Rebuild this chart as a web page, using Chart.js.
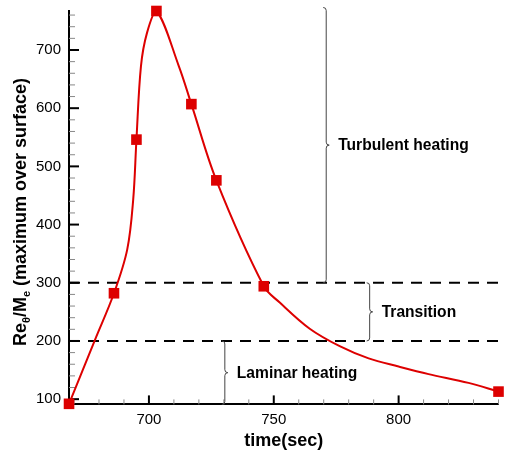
<!DOCTYPE html>
<html>
<head>
<meta charset="utf-8">
<script src="https://cdn.jsdelivr.net/npm/chart.js@4.4.0/dist/chart.umd.min.js"></script>
<style>
  html, body { margin: 0; padding: 0; background: #fff; }
  #contenedor { width: 506px; height: 452px; }
</style>
</head>
<body>
<div id="contenedor"><canvas id="grafico-reynolds"></canvas></div>
<script>
// Puntos marcados (cuadrados)
const tiempoMarcas = [668, 686, 695, 703, 717, 727, 746, 840];
const valorMarcas = [92, 282, 546, 767, 607, 476, 294, 113];

// Curva
const tiempoCurva = [668, 678.4, 686, 691.3, 693.7, 695, 696.8, 699.2, 703, 712, 717, 727, 746, 752.4, 764.4, 776.4, 788, 800, 812, 828, 840];
const valorCurva = [92, 202, 282, 357, 443, 546, 672, 729, 767, 672, 607, 476, 294, 266, 221, 191, 170, 156, 143, 128, 113];

// Límites de régimen (líneas discontinuas)
const umbrales = [200, 300];

// Llaves con etiquetas
const etiquetasLlave = ['Turbulent heating', 'Transition', 'Laminar heating'];
const tiempoLlave = [771, 788.4, 730.4];
const desdeLlave = [300, 200, 91];
const hastaLlave = [773, 300, 200];

const ROJO = '#dd0000';
const FUENTE = "'Liberation Sans', Arial, sans-serif";

const puntos = (xs, ys) => xs.map((x, i) => ({ x: x, y: ys[i] }));

// Marcas de escala hacia adentro
const marcasEscala = {
  id: 'marcasEscala',
  beforeDatasetsDraw(chart) {
    const { ctx, chartArea, scales } = chart;
    ctx.save();
    scales.x.ticks.forEach(t => {
      if (t.value % 10 !== 0) return;
      const px = scales.x.getPixelForValue(t.value);
      const mayor = t.value % 50 === 0;
      ctx.beginPath();
      ctx.strokeStyle = mayor ? '#000' : '#888';
      ctx.lineWidth = mayor ? 2 : 1;
      ctx.moveTo(px, chartArea.bottom);
      ctx.lineTo(px, chartArea.bottom - (mayor ? 9 : 5));
      ctx.stroke();
    });
    scales.y.ticks.forEach(t => {
      if (t.value % 20 !== 0) return;
      const py = scales.y.getPixelForValue(t.value);
      const mayor = t.value % 100 === 0;
      ctx.beginPath();
      ctx.strokeStyle = mayor ? '#000' : '#888';
      ctx.lineWidth = mayor ? 2 : 1;
      ctx.moveTo(chartArea.left, py);
      ctx.lineTo(chartArea.left + (mayor ? 10 : 6), py);
      ctx.stroke();
    });
    ctx.restore();
  }
};

// Llaves y título del eje Y
const anotaciones = {
  id: 'anotaciones',
  afterDraw(chart) {
    const { ctx, scales } = chart;
    ctx.save();
    ctx.strokeStyle = '#444';
    ctx.lineWidth = 1;
    etiquetasLlave.forEach((texto, i) => {
      const x = scales.x.getPixelForValue(tiempoLlave[i]);
      const y0 = scales.y.getPixelForValue(hastaLlave[i]);
      const y1 = scales.y.getPixelForValue(desdeLlave[i]);
      const ym = (y0 + y1) / 2;
      const r = 3;
      ctx.beginPath();
      ctx.moveTo(x - r, y0);
      ctx.quadraticCurveTo(x, y0, x, y0 + r);
      ctx.lineTo(x, ym - r);
      ctx.quadraticCurveTo(x, ym, x + r, ym);
      ctx.quadraticCurveTo(x, ym, x, ym + r);
      ctx.lineTo(x, y1 - r);
      ctx.quadraticCurveTo(x, y1, x - r, y1);
      ctx.stroke();
      ctx.fillStyle = '#000';
      ctx.font = 'bold 15.6px ' + FUENTE;
      ctx.textAlign = 'left';
      ctx.textBaseline = 'middle';
      ctx.fillText(texto, x + 12, ym + 1);
    });

    // Título vertical con subíndices
    const partes = [
      { t: 'Re', sub: false },
      { t: '\u03B8', sub: true },
      { t: '/M', sub: false },
      { t: 'e', sub: true },
      { t: ' (maximum over surface)', sub: false }
    ];
    const fNormal = 'bold 18px ' + FUENTE;
    const fSub = 'bold 11px ' + FUENTE;
    let total = 0;
    partes.forEach(p => {
      ctx.font = p.sub ? fSub : fNormal;
      p.w = ctx.measureText(p.t).width;
      total += p.w;
    });
    ctx.translate(26, 212);
    ctx.rotate(-Math.PI / 2);
    ctx.textAlign = 'left';
    ctx.textBaseline = 'alphabetic';
    let pos = -total / 2;
    partes.forEach(p => {
      ctx.font = p.sub ? fSub : fNormal;
      ctx.fillText(p.t, pos, p.sub ? 4 : 0);
      pos += p.w;
    });
    ctx.restore();
  }
};

const datasetsUmbral = umbrales.map(v => ({
  label: 'umbral ' + v,
  data: puntos([668, 840], [v, v]),
  showLine: true,
  borderColor: '#000',
  borderWidth: 2,
  borderDash: [11, 8],
  pointRadius: 0,
  order: 2
}));

new Chart(document.getElementById('grafico-reynolds'), {
  type: 'scatter',
  data: {
    datasets: [
      {
        label: 'Marcas',
        data: puntos(tiempoMarcas, valorMarcas),
        showLine: false,
        pointStyle: 'rect',
        pointRadius: 7.5,
        pointHoverRadius: 7.5,
        backgroundColor: ROJO,
        borderColor: ROJO,
        borderWidth: 0,
        clip: false,
        order: 0
      },
      {
        label: 'Curva',
        data: puntos(tiempoCurva, valorCurva),
        showLine: true,
        tension: 0.35,
        borderColor: ROJO,
        borderWidth: 2,
        pointRadius: 0,
        clip: false,
        order: 1
      },
      ...datasetsUmbral
    ]
  },
  options: {
    responsive: true,
    maintainAspectRatio: false,
    animation: false,
    layout: {
      padding: { left: 28, right: 4, top: 11, bottom: 0 }
    },
    plugins: {
      legend: { display: false },
      tooltip: { enabled: false }
    },
    scales: {
      x: {
        type: 'linear',
        min: 668,
        max: 840,
        grid: { display: false, drawTicks: false },
        border: { display: true, color: '#000', width: 2 },
        ticks: {
          stepSize: 10,
          autoSkip: false,
          includeBounds: false,
          maxRotation: 0,
          padding: 6,
          color: '#000',
          font: { family: FUENTE, size: 15 },
          callback: v => (v % 50 === 0 ? v : '')
        },
        title: {
          display: true,
          text: 'time(sec)',
          color: '#000',
          font: { family: FUENTE, size: 18, weight: 'bold' },
          padding: { top: -4, bottom: 0 }
        }
      },
      y: {
        type: 'linear',
        min: 91,
        max: 767,
        afterFit: escala => { escala.paddingTop = 0; },
        grid: { display: false, drawTicks: false },
        border: { display: true, color: '#000', width: 2 },
        ticks: {
          stepSize: 20,
          autoSkip: false,
          includeBounds: false,
          padding: 8,
          color: '#000',
          font: { family: FUENTE, size: 15 },
          callback: v => (v % 100 === 0 ? v : '')
        }
      }
    }
  },
  plugins: [marcasEscala, anotaciones]
});
</script>
</body>
</html>
